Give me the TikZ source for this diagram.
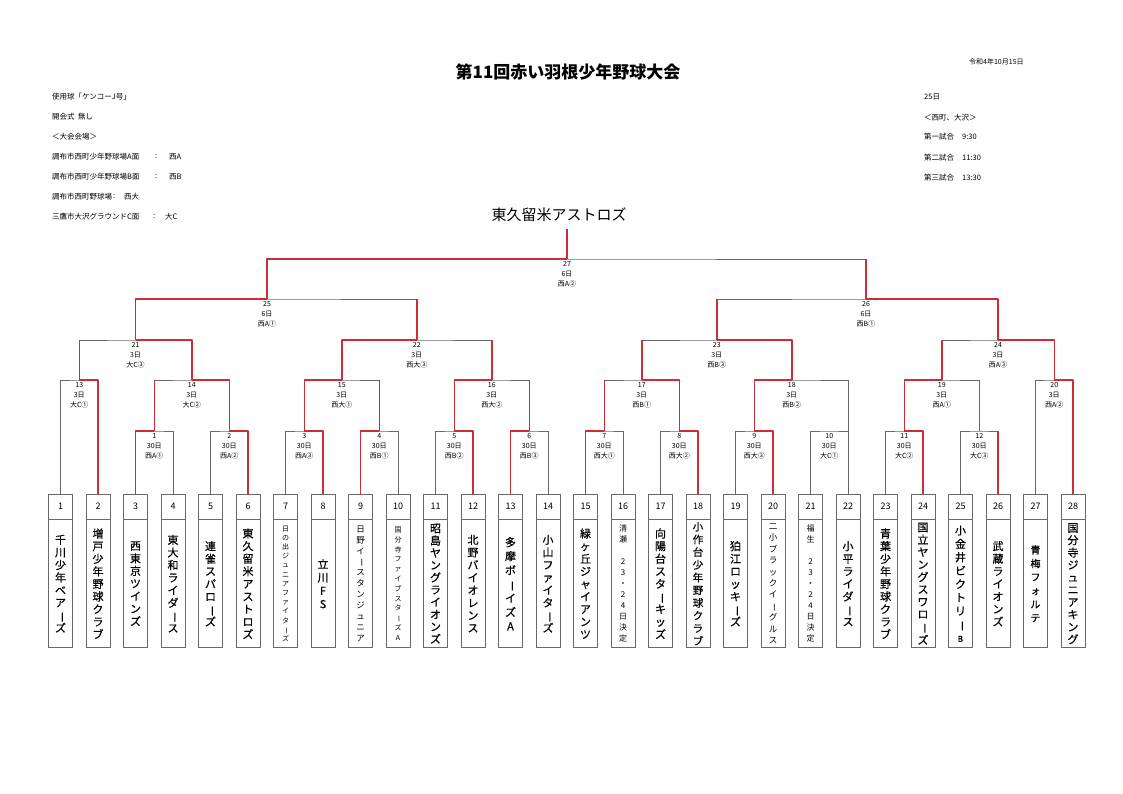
\documentclass[tikz,border=0pt]{standalone}
\usepackage{fontspec}
\setmainfont{Noto Sans CJK JP}
\newfontfamily\namefont{Noto Sans CJK JP}[FakeBold=0.5]
\definecolor{lg}{RGB}{105,105,105}
\definecolor{rd}{RGB}{205,45,55}
\newcommand\tatebo{\rotatebox[origin=c]{-90}{ー}}
\newcommand\fsz[2]{\fontsize{#1}{#2}\selectfont}
\begin{document}
\begin{tikzpicture}[x=1pt,y=-1pt,
  gl/.style={draw=lg,line width=0.7pt},
  rl/.style={draw=rd,line width=1.5pt,line join=round},
  numbox/.style={draw=lg,line width=0.7pt,minimum width=24pt,minimum height=25pt,inner sep=0pt,font=\fsz{9}{10}},
  namebox/.style={draw=lg,line width=0.7pt,minimum width=24pt,minimum height=128pt,inner sep=0pt,align=center,font=\namefont\fsz{11}{12.6}},
  mlab/.style={anchor=north,inner sep=0pt,align=center,font=\fsz{7}{10}},
  info/.style={anchor=west,inner sep=0pt,font=\fsz{7.5}{9}},
]
\fill[white] (0,0) rectangle (1123,794);
\path[use as bounding box] (0,0) rectangle (1123,794);

% header
\node[inner sep=0pt,font=\bfseries\fsz{17}{20}] (title) at (568,72) {第11回赤い羽根少年野球大会};
\node[info,font=\fsz{7}{8}] (date) at (969,62) {令和4年10月15日};
\node[info] (i1) at (52,97) {使用球「ケンコーJ号」};
\node[info] (i2) at (52,117) {開会式\ \ 無し};
\node[info] (i3) at (52,137) {＜大会会場＞};
\node[info] (i4) at (52,157) {調布市西町少年野球場A面};
\node[info] (i4c) at (155,157) {:};
\node[info] (i4v) at (169,157) {西A};
\node[info] (i5) at (52,177) {調布市西町少年野球場B面};
\node[info] (i5c) at (155,177) {:};
\node[info] (i5v) at (169,177) {西B};
\node[info] (i6) at (52,197) {調布市西町野球場};
\node[info] (i6c) at (113,197) {:};
\node[info] (i6v) at (124,197) {西大};
\node[info] (i7) at (52,217) {三鷹市大沢グラウンドC面};
\node[info] (i7c) at (153,217) {:};
\node[info] (i7v) at (165,217) {大C};
\node[info] (r1) at (924,97) {25日};
\node[info] (r2) at (924,118) {＜西町、大沢＞};
\node[info] (r3) at (924,137) {第一試合};
\node[info] (r3t) at (962,137) {9:30};
\node[info] (r4) at (924,158) {第二試合};
\node[info] (r4t) at (962,158) {11:30};
\node[info] (r5) at (924,178) {第三試合};
\node[info] (r5t) at (962,178) {13:30};
\node[inner sep=0pt,font=\fsz{15}{16}] (champ) at (559,215) {東久留米アストロズ};
\coordinate (champC) at (567,229);

% team number boxes
\foreach \i in {1,...,28} {
  \pgfmathsetmacro\cx{60.5+37.5*(\i-1)}
  \node[numbox] (n\i) at (\cx,506.5) {\i};
}
% team name boxes
\node[namebox] (t1) at (n1.south) [anchor=north] {千\\川\\少\\年\\ベ\\ア\\\tatebo\\ズ};
\node[namebox] (t2) at (n2.south) [anchor=north] {増\\戸\\少\\年\\野\\球\\ク\\ラ\\ブ};
\node[namebox] (t3) at (n3.south) [anchor=north] {西\\東\\京\\ツ\\イ\\ン\\ズ};
\node[namebox] (t4) at (n4.south) [anchor=north] {東\\大\\和\\ラ\\イ\\ダ\\\tatebo\\ス};
\node[namebox] (t5) at (n5.south) [anchor=north] {連\\雀\\ス\\パ\\ロ\\\tatebo\\ズ};
\node[namebox] (t6) at (n6.south) [anchor=north] {東\\久\\留\\米\\ア\\ス\\ト\\ロ\\ズ};
\node[namebox,font=\fsz{7}{9.2}] (t7) at (n7.south) [anchor=north] {日\\の\\出\\ジ\\ュ\\ニ\\ア\\フ\\ァ\\イ\\タ\\\tatebo\\ズ};
\node[namebox,font=\namefont\fsz{11}{13.3}] (t8) at (n8.south) [anchor=north] {立\\川\\F\\S};
\node[namebox,font=\fsz{8.5}{10.9}] (t9) at (n9.south) [anchor=north] {日\\野\\イ\\\tatebo\\ス\\タ\\ン\\ジ\\ュ\\ニ\\ア};
\node[namebox,font=\fsz{7}{9.8}] (t10) at (n10.south) [anchor=north] {国\\分\\寺\\フ\\ァ\\イ\\ブ\\ス\\タ\\\tatebo\\ズ\\A};
\node[namebox,font=\namefont\fsz{11}{12.3}] (t11) at (n11.south) [anchor=north] {昭\\島\\ヤ\\ン\\グ\\ラ\\イ\\オ\\ン\\ズ};
\node[namebox] (t12) at (n12.south) [anchor=north] {北\\野\\バ\\イ\\オ\\レ\\ン\\ス};
\node[namebox,font=\namefont\fsz{11}{14}] (t13) at (n13.south) [anchor=north] {多\\摩\\ボ\\\tatebo\\イ\\ズ\\A};
\node[namebox] (t14) at (n14.south) [anchor=north] {小\\山\\フ\\ァ\\イ\\タ\\\tatebo\\ズ};
\node[namebox] (t15) at (n15.south) [anchor=north] {緑\\ヶ\\丘\\ジ\\ャ\\イ\\ア\\ン\\ツ};
\node[namebox,font=\fsz{8}{11}] (t16) at (n16.south) [anchor=north] {清\\瀬\\\mbox{}\\2\\3\\・\\2\\4\\日\\決\\定};
\node[namebox] (t17) at (n17.south) [anchor=north] {向\\陽\\台\\ス\\タ\\\tatebo\\キ\\ッ\\ズ};
\node[namebox,font=\namefont\fsz{10.5}{12.7}] (t18) at (n18.south) [anchor=north] {小\\作\\台\\少\\年\\野\\球\\ク\\ラ\\ブ};
\node[namebox] (t19) at (n19.south) [anchor=north] {狛\\江\\ロ\\ッ\\キ\\\tatebo\\ズ};
\node[namebox,font=\fsz{8.5}{11.4}] (t20) at (n20.south) [anchor=north] {二\\小\\ブ\\ラ\\ッ\\ク\\イ\\\tatebo\\グ\\ル\\ス};
\node[namebox,font=\fsz{8}{11}] (t21) at (n21.south) [anchor=north] {福\\生\\\mbox{}\\2\\3\\・\\2\\4\\日\\決\\定};
\node[namebox] (t22) at (n22.south) [anchor=north] {小\\平\\ラ\\イ\\ダ\\\tatebo\\ス};
\node[namebox] (t23) at (n23.south) [anchor=north] {青\\葉\\少\\年\\野\\球\\ク\\ラ\\ブ};
\node[namebox,font=\namefont\fsz{11}{12.4}] (t24) at (n24.south) [anchor=north] {国\\立\\ヤ\\ン\\グ\\ス\\ワ\\ロ\\\tatebo\\ズ};
\node[namebox,font=\namefont\fsz{11}{13.4}] (t25) at (n25.south) [anchor=north] {小\\金\\井\\ビ\\ク\\ト\\リ\\\tatebo\\{\fsz{8}{9}B}};
\node[namebox] (t26) at (n26.south) [anchor=north] {武\\蔵\\ラ\\イ\\オ\\ン\\ズ};
\node[namebox,font=\namefont\fsz{10}{13.6}] (t27) at (n27.south) [anchor=north] {青\\梅\\フ\\ォ\\ル\\テ};
\node[namebox,font=\namefont\fsz{11}{12.4}] (t28) at (n28.south) [anchor=north] {国\\分\\寺\\ジ\\ュ\\ニ\\ア\\キ\\ン\\グ};

% match points
\coordinate (M1) at (154.25,431);  \coordinate (M2) at (229.25,431);
\coordinate (M3) at (304.25,431);  \coordinate (M4) at (379.25,431);
\coordinate (M5) at (454.25,431);  \coordinate (M6) at (529.25,431);
\coordinate (M7) at (604.25,431);  \coordinate (M8) at (679.25,431);
\coordinate (M9) at (754.25,431);  \coordinate (M10) at (829.25,431);
\coordinate (M11) at (904.25,431); \coordinate (M12) at (979.25,431);
\coordinate (M13) at (79.25,380);  \coordinate (M14) at (191.75,380);
\coordinate (M15) at (341.75,380); \coordinate (M16) at (491.75,380);
\coordinate (M17) at (641.75,380); \coordinate (M18) at (791.75,380);
\coordinate (M19) at (941.75,380); \coordinate (M20) at (1054.25,380);
\coordinate (M21) at (135.5,340);  \coordinate (M22) at (416.75,340);
\coordinate (M23) at (716.75,340); \coordinate (M24) at (998,340);
\coordinate (M25) at (267,299);    \coordinate (M26) at (866,299);
\coordinate (M27) at (567,259);

% grey bracket
\draw[gl] (n3.north) |- (M1) -| (n4.north);
\draw[gl] (n5.north) |- (M2) -| (n6.north);
\draw[gl] (n7.north) |- (M3) -| (n8.north);
\draw[gl] (n9.north) |- (M4) -| (n10.north);
\draw[gl] (n11.north) |- (M5) -| (n12.north);
\draw[gl] (n13.north) |- (M6) -| (n14.north);
\draw[gl] (n15.north) |- (M7) -| (n16.north);
\draw[gl] (n17.north) |- (M8) -| (n18.north);
\draw[gl] (n19.north) |- (M9) -| (n20.north);
\draw[gl] (n21.north) |- (M10) -| (n22.north);
\draw[gl] (n23.north) |- (M11) -| (n24.north);
\draw[gl] (n25.north) |- (M12) -| (n26.north);
\draw[gl] (n1.north) |- (M13) -| (n2.north);
\draw[gl] (M1) |- (M14) -| (M2);
\draw[gl] (M3) |- (M15) -| (M4);
\draw[gl] (M5) |- (M16) -| (M6);
\draw[gl] (M7) |- (M17) -| (M8);
\draw[gl] (M9) |- (M18) -| (n22.north);
\draw[gl] (M11) |- (M19) -| (M12);
\draw[gl] (n27.north) |- (M20) -| (n28.north);
\draw[gl] (M13) |- (M21) -| (M14);
\draw[gl] (M15) |- (M22) -| (M16);
\draw[gl] (M17) |- (M23) -| (M18);
\draw[gl] (M19) |- (M24) -| (M20);
\draw[gl] (M21) |- (M25) -| (M22);
\draw[gl] (M23) |- (M26) -| (M24);
\draw[gl] (M25) |- (M27) -| (M26);

% red winner paths
\draw[rl] (n3.north) |- (M1);
\draw[rl] (n6.north) |- (M2);
\draw[rl] (n8.north) |- (M3);
\draw[rl] (n9.north) |- (M4);
\draw[rl] (n12.north) |- (M5);
\draw[rl] (n13.north) |- (M6);
\draw[rl] (n15.north) |- (M7);
\draw[rl] (n18.north) |- (M8);
\draw[rl] (n20.north) |- (M9);
\draw[rl] (n24.north) |- (M11);
\draw[rl] (n26.north) -- (n26.north |- M12);
\draw[rl] (n2.north) |- (M13);
\draw[rl] (n28.north) |- (M20);
\draw[rl] (M2) |- (M14);   \draw[rl] (M1) -- (M1 |- M14);
\draw[rl] (M3) |- (M15);   \draw[rl] (M4) -- (M4 |- M15);
\draw[rl] (M5) |- (M16);   \draw[rl] (M6) -- (M6 |- M16);
\draw[rl] (M8) |- (M17);   \draw[rl] (M7) -- (M7 |- M17);
\draw[rl] (M9) |- (M18);
\draw[rl] (M11) |- (M19);
\draw[rl] (M14) |- (M21);  \draw[rl] (M13) -- (M13 |- M21);
\draw[rl] (M15) |- (M22);  \draw[rl] (M16) -- (M16 |- M22);
\draw[rl] (M18) |- (M23);  \draw[rl] (M17) -- (M17 |- M23);
\draw[rl] (M20) |- (M24);  \draw[rl] (M19) -- (M19 |- M24);
\draw[rl] (M21) |- (M25);  \draw[rl] (M22) -- (M22 |- M25);
\draw[rl] (M24) |- (M26);  \draw[rl] (M23) -- (M23 |- M26);
\draw[rl] (M25) |- (M27);  \draw[rl] (M26) -- (M26 |- M27);
\draw[rl] (M27) -- (champC);

% match labels
\node[mlab] (L1) at ([yshift=-2pt]M1) {1\\30日\\西A①};
\node[mlab] (L2) at ([yshift=-2pt]M2) {2\\30日\\西A②};
\node[mlab] (L3) at ([yshift=-2pt]M3) {3\\30日\\西A③};
\node[mlab] (L4) at ([yshift=-2pt]M4) {4\\30日\\西B①};
\node[mlab] (L5) at ([yshift=-2pt]M5) {5\\30日\\西B②};
\node[mlab] (L6) at ([yshift=-2pt]M6) {6\\30日\\西B③};
\node[mlab] (L7) at ([yshift=-2pt]M7) {7\\30日\\西大①};
\node[mlab] (L8) at ([yshift=-2pt]M8) {8\\30日\\西大②};
\node[mlab] (L9) at ([yshift=-2pt]M9) {9\\30日\\西大③};
\node[mlab] (L10) at ([yshift=-2pt]M10) {10\\30日\\大C①};
\node[mlab] (L11) at ([yshift=-2pt]M11) {11\\30日\\大C②};
\node[mlab] (L12) at ([yshift=-2pt]M12) {12\\30日\\大C③};
\node[mlab] (L13) at ([yshift=-2pt]M13) {13\\3日\\大C①};
\node[mlab] (L14) at ([yshift=-2pt]M14) {14\\3日\\大C②};
\node[mlab] (L15) at ([yshift=-2pt]M15) {15\\3日\\西大①};
\node[mlab] (L16) at ([yshift=-2pt]M16) {16\\3日\\西大②};
\node[mlab] (L17) at ([yshift=-2pt]M17) {17\\3日\\西B①};
\node[mlab] (L18) at ([yshift=-2pt]M18) {18\\3日\\西B②};
\node[mlab] (L19) at ([yshift=-2pt]M19) {19\\3日\\西A①};
\node[mlab] (L20) at ([yshift=-2pt]M20) {20\\3日\\西A②};
\node[mlab] (L21) at ([yshift=-2pt]M21) {21\\3日\\大C③};
\node[mlab] (L22) at ([yshift=-2pt]M22) {22\\3日\\西大③};
\node[mlab] (L23) at ([yshift=-2pt]M23) {23\\3日\\西B③};
\node[mlab] (L24) at ([yshift=-2pt]M24) {24\\3日\\西A③};
\node[mlab] (L25) at ([yshift=-2pt]M25) {25\\6日\\西A①};
\node[mlab] (L26) at ([yshift=-2pt]M26) {26\\6日\\西B①};
\node[mlab] (L27) at ([yshift=-2pt]M27) {27\\6日\\西A②};
\end{tikzpicture}
\end{document}
